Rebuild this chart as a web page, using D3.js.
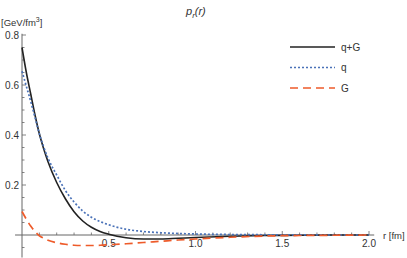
<!DOCTYPE html>
<html><head><meta charset="utf-8">
<script src="https://cdn.jsdelivr.net/npm/d3@7"></script>
<style>
html,body{margin:0;padding:0;background:#fff;}
svg{display:block;font-family:"Liberation Sans",Arial,sans-serif;}
</style></head>
<body>
<svg id="c" width="407" height="258"></svg>
<script>
const rVals = [0,0.025,0.05,0.075,0.1,0.125,0.15,0.2,0.25,0.3,0.35,0.4,0.45,0.5,0.6,0.7,0.8,0.9,1.0,1.2,1.4,1.6,1.8,2.0];
const qG = [0.75,0.65,0.565,0.48,0.405,0.345,0.293,0.21,0.145,0.093,0.056,0.031,0.014,0.003,-0.011,-0.016,-0.016,-0.013,-0.010,-0.005,-0.002,-0.001,0,0];
const q  = [0.655,0.595,0.535,0.47,0.405,0.352,0.307,0.24,0.178,0.132,0.096,0.071,0.054,0.041,0.023,0.014,0.009,0.006,0.004,0.002,0.001,0.0005,0,0];
const G  = [0.094,0.063,0.036,0.014,-0.003,-0.013,-0.021,-0.031,-0.037,-0.041,-0.042,-0.042,-0.041,-0.039,-0.035,-0.030,-0.025,-0.020,-0.016,-0.009,-0.004,-0.002,-0.001,0];
const seriesNames = ["q+G","q","G"];
const xTicks = [0.5,1.0,1.5,2.0];
const yTicks = [0.2,0.4,0.6,0.8];

const svg = d3.select("#c");
const x = d3.scaleLinear().domain([0,2]).range([22,369]);
const y = d3.scaleLinear().domain([0,0.8]).range([235,35]);
const axisCol = "#666", txtCol = "#333";

// axes
const ax = svg.append("g");
ax.append("line").attr("x1",x(-0.04)).attr("x2",x(2.03)).attr("y1",y(0)).attr("y2",y(0)).attr("stroke",axisCol).attr("stroke-width",1);
ax.append("line").attr("x1",x(0)).attr("x2",x(0)).attr("y1",y(0.805)).attr("y2",y(-0.09)).attr("stroke",axisCol).attr("stroke-width",1);
// x ticks
d3.range(1,21).forEach(i=>{
  const v=i/10, major = i%5===0;
  ax.append("line").attr("x1",x(v)).attr("x2",x(v)).attr("y1",y(0)).attr("y2",y(0)-(major?4:2.5)).attr("stroke",axisCol).attr("stroke-width",0.8);
});
xTicks.forEach(v=>{
  ax.append("text").attr("x",x(v)).attr("y",y(0)+11.5).attr("text-anchor","middle").attr("font-size",10).attr("fill",txtCol).text(v.toFixed(1));
});
// y ticks
d3.range(-1,17).forEach(i=>{
  if(i===0) return;
  const v=i*0.05, major = i%4===0;
  ax.append("line").attr("x1",x(0)).attr("x2",x(0)+(major?4:2.5)).attr("y1",y(v)).attr("y2",y(v)).attr("stroke",axisCol).attr("stroke-width",0.8);
});
yTicks.forEach(v=>{
  ax.append("text").attr("x",19).attr("y",y(v)+3.5).attr("text-anchor","end").attr("font-size",10).attr("fill",txtCol).text(v.toFixed(1));
});
// axis labels
const yl = svg.append("text").attr("x",1).attr("y",26).attr("font-size",9.5).attr("fill",txtCol);
yl.append("tspan").text("[GeV/fm");
yl.append("tspan").attr("dy",-4).attr("font-size",7).text("3");
yl.append("tspan").attr("dy",4).text("]");
svg.append("text").attr("x",383).attr("y",y(0)+3.5).attr("font-size",9.5).attr("fill",txtCol).text("r [fm]");
// title
const t = svg.append("text").attr("x",186).attr("y",15).attr("font-size",11).attr("font-style","italic").attr("fill",txtCol);
t.append("tspan").text("p");
t.append("tspan").attr("dy",2.5).attr("font-size",8).text("r");
t.append("tspan").attr("dy",-2.5).text("(r)");

// curves
const styles = [
  {data:qG, color:"#222222", dash:null, w:1.6},
  {data:q, color:"#4a72b8", dash:"2,2", w:1.7},
  {data:G, color:"#ee5b2a", dash:"8,5", w:1.7}
];
const line = d3.line().x(d=>x(d[0])).y(d=>y(d[1])).curve(d3.curveMonotoneX);
styles.forEach(s=>{
  svg.append("path").datum(rVals.map((r,i)=>[r,s.data[i]]))
    .attr("d",line).attr("fill","none").attr("stroke",s.color).attr("stroke-width",s.w)
    .attr("stroke-dasharray",s.dash);
});

// legend
const lg = svg.append("g");
seriesNames.forEach((n,i)=>{
  const yy = 47 + i*20.5, s = styles[i];
  lg.append("line").attr("x1",290).attr("x2",335).attr("y1",yy).attr("y2",yy)
    .attr("stroke",s.color).attr("stroke-width",s.w).attr("stroke-dasharray",s.dash);
  lg.append("text").attr("x",341).attr("y",yy+3.5).attr("font-size",10).attr("fill",txtCol).text(n);
});
</script>
</body></html>
